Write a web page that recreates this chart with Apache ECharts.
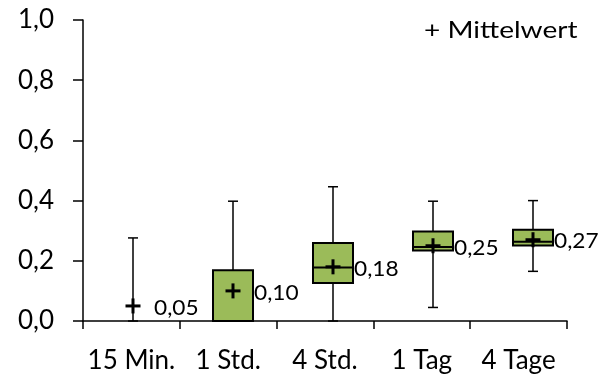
<!DOCTYPE html>
<html>
<head>
<meta charset="utf-8">
<script src="https://cdn.jsdelivr.net/npm/echarts@6/dist/echarts.min.js"></script>
<style>
  html, body { margin: 0; padding: 0; background: #fff; }
  #chart { width: 600px; height: 377px; }
</style>
</head>
<body>
<div id="chart"></div>
<script>
// Categories and box-plot statistics per time window
const categories = ['15 Min.', '1 Std.', '4 Std.', '1 Tag', '4 Tage'];
const whiskerLow = [0, 0, 0, 0.045, 0.165];
const quartile1 = [0, 0, 0.126, 0.234, 0.251];
const medians = [0, 0, 0.178, 0.246, 0.263];
const quartile3 = [0, 0.169, 0.259, 0.297, 0.303];
const whiskerHigh = [0.276, 0.398, 0.446, 0.398, 0.400];
const means = [0.05, 0.10, 0.18, 0.25, 0.27];
const meanLabels = ['0,05', '0,10', '0,18', '0,25', '0,27'];
const yTickLabels = ['0,0', '0,2', '0,4', '0,6', '0,8', '1,0'];
const legendText = '+ Mittelwert';

const FONT = 'Lato';
const BOX_FILL = '#9BBB59';

const boxData = categories.map((c, i) => [
  i, whiskerLow[i], quartile1[i], medians[i], quartile3[i], whiskerHigh[i], means[i]
]);

function renderBox(params, api) {
  const i = api.value(0);
  const pLow = api.coord([i, api.value(1)]);
  const pQ1 = api.coord([i, api.value(2)]);
  const pMed = api.coord([i, api.value(3)]);
  const pQ3 = api.coord([i, api.value(4)]);
  const pHigh = api.coord([i, api.value(5)]);
  const pMean = api.coord([i, api.value(6)]);
  const cx = pLow[0];
  const halfBox = 20;
  const halfCap = 5;
  const halfPlus = 7.5;
  const line = { stroke: '#000', lineWidth: 1.5 };
  const children = [
    { type: 'line', shape: { x1: cx, y1: pHigh[1], x2: cx, y2: pLow[1] }, style: line },
    { type: 'line', shape: { x1: cx - halfCap, y1: pHigh[1], x2: cx + halfCap, y2: pHigh[1] }, style: line },
    { type: 'line', shape: { x1: cx - halfCap, y1: pLow[1], x2: cx + halfCap, y2: pLow[1] }, style: line }
  ];
  if (pQ1[1] - pQ3[1] > 0.5) {
    children.push({
      type: 'rect',
      shape: { x: cx - halfBox, y: pQ3[1], width: 2 * halfBox, height: pQ1[1] - pQ3[1] },
      style: { fill: BOX_FILL, stroke: '#000', lineWidth: 2 }
    });
    children.push({
      type: 'line',
      shape: { x1: cx - halfBox, y1: pMed[1], x2: cx + halfBox, y2: pMed[1] },
      style: { stroke: '#000', lineWidth: 2 }
    });
  }
  children.push(
    { type: 'line', shape: { x1: cx - halfPlus, y1: pMean[1], x2: cx + halfPlus, y2: pMean[1] }, style: { stroke: '#000', lineWidth: 3 } },
    { type: 'line', shape: { x1: cx, y1: pMean[1] - halfPlus, x2: cx, y2: pMean[1] + halfPlus }, style: { stroke: '#000', lineWidth: 3 } },
    {
      type: 'text',
      x: cx + 21, y: pMean[1] + 2,
      scaleX: 1.08,
      style: {
        text: meanLabels[params.dataIndex],
        x: 0, y: 0,
        fill: '#000', fontSize: 21, fontFamily: FONT,
        align: 'left', verticalAlign: 'middle'
      }
    }
  );
  return { type: 'group', children };
}

const chart = echarts.init(document.getElementById('chart'), null, { renderer: 'canvas' });
chart.setOption({
  animation: false,
  backgroundColor: '#fff',
  textStyle: { fontFamily: FONT },
  grid: [
    { left: 83, right: 33, top: 20, bottom: 56 },
    { left: 83, right: 17, top: 20, bottom: 56 }
  ],
  xAxis: [
    {
      type: 'category', gridIndex: 0, data: categories, boundaryGap: true,
      axisLine: { lineStyle: { color: '#000', width: 1.5 } },
      axisTick: { show: true, length: 8, lineStyle: { color: '#000', width: 1.5 } },
      axisLabel: { color: '#000', fontSize: 26, fontFamily: FONT, margin: 27, interval: 0 },
      splitLine: { show: false }
    },
    {
      type: 'category', gridIndex: 1, data: categories, boundaryGap: true, show: false
    }
  ],
  yAxis: [
    {
      type: 'value', gridIndex: 0, min: 0, max: 1, interval: 0.2,
      axisLine: { show: true, lineStyle: { color: '#000', width: 1.5 } },
      axisTick: { show: true, length: 10, lineStyle: { color: '#000', width: 1.5 } },
      axisLabel: {
        color: '#000', fontSize: 26, fontFamily: FONT, margin: 29,
        formatter: (v) => yTickLabels[Math.round(v / 0.2)]
      },
      splitLine: { show: false }
    },
    { type: 'value', gridIndex: 1, min: 0, max: 1, show: false }
  ],
  graphic: [
    {
      type: 'text', x: 424, y: 31, scaleX: 1.22,
      style: {
        text: legendText, x: 0, y: 0,
        fill: '#000', fontSize: 23, fontFamily: FONT,
        align: 'left', verticalAlign: 'middle'
      }
    }
  ],
  series: [
    {
      name: 'Mittelwert',
      type: 'custom',
      xAxisIndex: 1, yAxisIndex: 1,
      renderItem: renderBox,
      data: boxData,
      clip: false,
      z: 5
    }
  ]
});
</script>
</body>
</html>
